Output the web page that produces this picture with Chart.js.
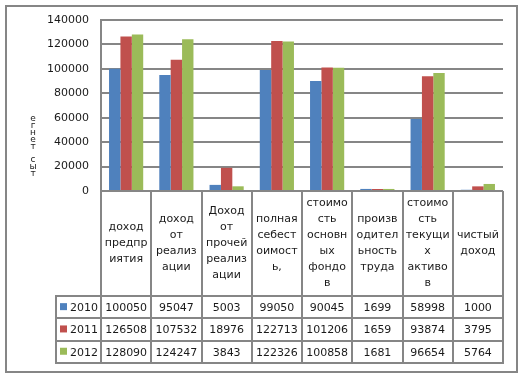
<!DOCTYPE html>
<html><head><meta charset="utf-8">
<script src="https://cdn.jsdelivr.net/npm/chart.js@4"></script>
<style>html,body{margin:0;padding:0;background:#fff}#wrap{width:521px;height:375px}</style>
</head><body><div id="wrap"><canvas id="c" width="521" height="375"></canvas></div>
<script>
const categories = [
  ["доход","предпр","иятия"],
  ["доход","от","реализ","ации"],
  ["Доход","от","прочей","реализ","ации"],
  ["полная","себест","оимост","ь,"],
  ["стоимо","сть","основн","ых","фондо","в"],
  ["произв","одител","ьность","труда"],
  ["стоимо","сть","текущи","х","активо","в"],
  ["чистый","доход"]
];
const years = ["2010","2011","2012"];
const s2010 = [100050, 95047, 5003, 99050, 90045, 1699, 58998, 1000];
const s2011 = [126508, 107532, 18976, 122713, 101206, 1659, 93874, 3795];
const s2012 = [128090, 124247, 3843, 122326, 100858, 1681, 96654, 5764];
const seriesColors = ["#4F81BD","#C0504D","#9BBB59"];
const yMin = 0, yMax = 140000, yStep = 20000;
const yTitle = "тыс тенге";

const FONT = "DejaVu Sans";
const GRAY = "#868686";
const TXT = "#1a1a1a";

const tablePlugin = {
  id: 'dataTable',
  afterDraw(chart) {
    const ctx = chart.ctx, ca = chart.chartArea, xs = chart.scales.x;
    const n = categories.length, cw = (ca.right - ca.left) / n;
    const hdrBottom = 296, rowH = 22.3, nRows = years.length;
    const tblBottom = hdrBottom + rowH * nRows;
    const legLeft = 56;
    ctx.save();
    ctx.strokeStyle = GRAY; ctx.lineWidth = 2;
    ctx.strokeRect(6, 6, 511, 366);
    ctx.beginPath();
    for (let i = 0; i <= n; i++) {
      const xx = Math.round(ca.left + i * cw);
      ctx.moveTo(xx, i === 0 ? ca.top : ca.bottom);
      ctx.lineTo(xx, tblBottom);
    }
    ctx.moveTo(legLeft, hdrBottom); ctx.lineTo(legLeft, tblBottom);
    for (let r = 0; r <= nRows; r++) {
      const yy = Math.round(hdrBottom + r * rowH);
      ctx.moveTo(legLeft - 1, yy); ctx.lineTo(ca.right + 1, yy);
    }
    ctx.stroke();

    ctx.fillStyle = TXT;
    ctx.font = "11px '" + FONT + "'";
    ctx.textAlign = 'center'; ctx.textBaseline = 'middle';
    const hc = (ca.bottom + hdrBottom) / 2, lh = 16;
    categories.forEach((lines, i) => {
      const cx = xs.getPixelForValue(i);
      const y0 = hc - (lines.length - 1) * lh / 2;
      lines.forEach((t, k) => ctx.fillText(t, cx, y0 + k * lh));
    });
    const all = [s2010, s2011, s2012];
    all.forEach((arr, r) => {
      const cy = hdrBottom + rowH * r + rowH / 2 + 1;
      arr.forEach((v, i) => {
        ctx.fillStyle = TXT; ctx.textAlign = 'center';
        ctx.fillText(String(v), xs.getPixelForValue(i), cy);
      });
      ctx.fillStyle = seriesColors[r];
      ctx.fillRect(60, cy - 5, 7, 7);
      ctx.fillStyle = TXT; ctx.textAlign = 'left';
      ctx.fillText(years[r], 70, cy);
    });

    // stacked vertical axis title
    ctx.font = "9px '" + FONT + "'";
    ctx.textAlign = 'center';
    const chars = Array.from(yTitle).reverse();
    chars.forEach((c, k) => ctx.fillText(c, 33, 119 + k * 6.8));
    ctx.restore();
  }
};

new Chart(document.getElementById('c'), {
  type: 'bar',
  data: {
    labels: categories,
    datasets: [
      { label: years[0], data: s2010, backgroundColor: seriesColors[0] },
      { label: years[1], data: s2011, backgroundColor: seriesColors[1] },
      { label: years[2], data: s2012, backgroundColor: seriesColors[2] }
    ]
  },
  options: {
    responsive: false,
    animation: false,
    layout: { padding: { top: 20, right: 18, bottom: 184, left: 0 } },
    plugins: { legend: { display: false }, tooltip: { enabled: false } },
    datasets: { bar: { categoryPercentage: 0.68, barPercentage: 1.0 } },
    scales: {
      x: {
        ticks: { display: false },
        grid: { display: false, drawTicks: false },
        border: { display: false },
        afterFit(s) { s.height = 0; }
      },
      y: {
        min: yMin, max: yMax,
        ticks: { stepSize: yStep, padding: 12, color: TXT, font: { family: FONT, size: 11 },
                 callback: (v) => String(v) },
        grid: { color: GRAY, lineWidth: 2, drawTicks: false },
        border: { display: true, color: GRAY, width: 2 },
        afterFit(s) { s.width = 101; }
      }
    }
  },
  plugins: [tablePlugin]
});
</script>
</body></html>
